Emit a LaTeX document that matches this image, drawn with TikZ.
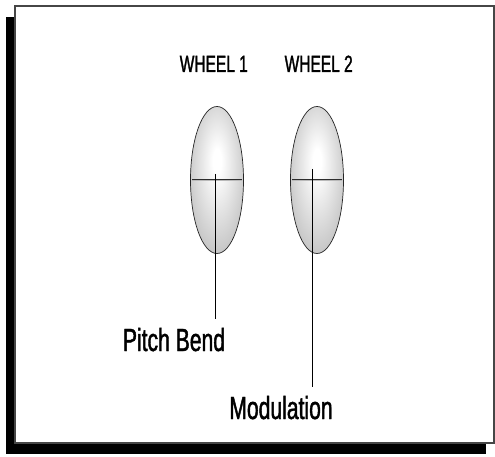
\documentclass[tikz,border=0pt]{standalone}
\usepackage{fontspec}
\setmainfont{Liberation Sans}[FakeStretch=0.66,FakeBold=1.3]
\usetikzlibrary{shapes.geometric}
\pgfdeclareradialshading{wheelshade}{\pgfpoint{0bp}{7bp}}{color(0bp)=(white); color(4bp)=(white); color(53bp)=(gray!90)}
\begin{document}
\begin{tikzpicture}[
  x=1pt,y=-1pt,
  wheel/.style={ellipse,minimum width=53pt,minimum height=147pt,inner sep=0pt,
    shading=wheelshade,draw=gray!30!black,line width=0.7pt},
  bar/.style={draw=gray!35!black,line width=0.6pt,double=gray!55,double distance=0.9pt,
    shorten <=2pt,shorten >=2pt},
  stem/.style={draw,line width=1.2pt,shorten >=8.5pt},
  caption/.style={font=\fontsize{23.5}{28}\selectfont,inner sep=0pt,anchor=base},
  tag/.style={font=\fontsize{32}{38}\selectfont,inner sep=0pt,anchor=base}
]
\useasboundingbox (0,0) rectangle (495,457);
\fill (6,17) rectangle (486,454);
\filldraw[fill=white,draw=gray!55!black,line width=1.2pt] (15,6) rectangle (494,443);

\node[caption] (capA) at (213.8,72) {WHEEL 1};
\node[caption] (capB) at (318.7,72) {WHEEL 2};

\node[wheel] (wheelA) at (217,180) {};
\node[wheel] (wheelB) at (317,180) {};
\draw[bar] (wheelA.west) -- (wheelA.east);
\draw[bar] (wheelB.west) -- (wheelB.east);
\coordinate (hubA) at (215.7,174);
\coordinate (hubB) at (312.3,169);

\node[tag] (pitch) at (174,351) {Pitch Bend};
\node[tag] (mod) at (281,419) {Modulation};
\draw[stem] (hubA) -- (hubA |- pitch.north);
\draw[stem] (hubB) -- (hubB |- mod.north);
\end{tikzpicture}
\end{document}
